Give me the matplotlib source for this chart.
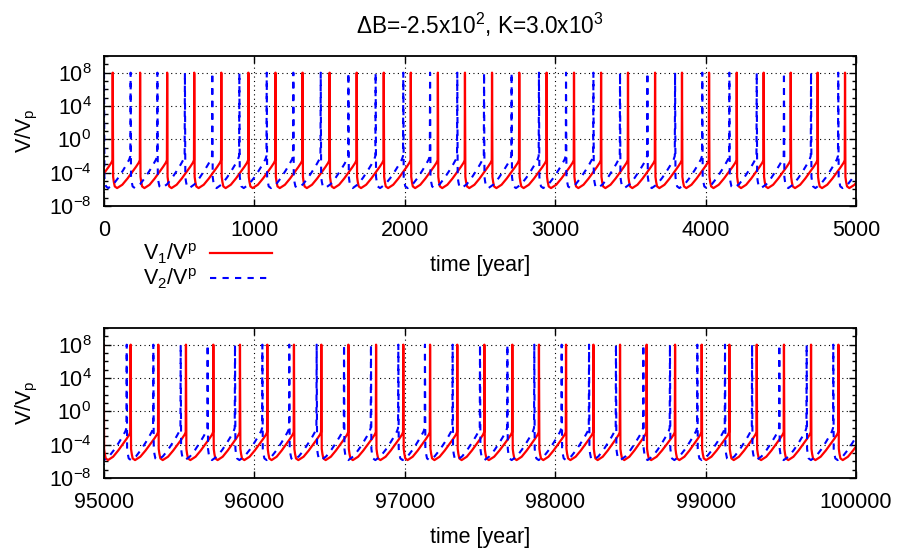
import numpy as np
import matplotlib.pyplot as plt

plt.rcParams['font.family'] = 'Liberation Sans'
plt.rcParams['mathtext.fontset'] = 'custom'
plt.rcParams['mathtext.rm'] = 'Liberation Sans'
plt.rcParams['mathtext.it'] = 'Liberation Sans:italic'
plt.rcParams['font.size'] = 15.5

# event (spike) times, in years
top_v1_events = [-122, 58, 240, 420, 600, 780, 960, 1140, 1320, 1500, 1680, 1860,
                 2040, 2220, 2400, 2580, 2761, 2943, 3125, 3305, 3484, 3664, 3843,
                 4023, 4207, 4386, 4566, 4745, 4927, 5107]
top_v2_events = [0, 177, 355, 538, 720, 900, 1082, 1259, 1441, 1625, 1806, 1990,
                 2168, 2349, 2527, 2710, 2892, 3072, 3254, 3431, 3613, 3797, 3978,
                 4158, 4340, 4521, 4701, 4882, 5063]
bot_v1_events = [94998, 95177, 95361, 95545, 95727, 95904, 96086, 96263, 96445,
                 96625, 96809, 96990, 97168, 97349, 97529, 97715, 97892, 98072,
                 98254, 98431, 98608, 98797, 98974, 99158, 99340, 99521, 99701,
                 99883, 100064]
bot_v2_events = [94971, 95151, 95328, 95510, 95689, 95871, 96053, 96232, 96414,
                 96596, 96775, 96957, 97134, 97318, 97500, 97682, 97861, 98043,
                 98225, 98404, 98586, 98763, 98945, 99129, 99309, 99490, 99672,
                 99849, 100030]

# shape of one cycle between spikes: phase of cycle and log10(V/Vp)
cycle_phase = [0.0, 0.015, 0.04, 0.075, 0.16, 0.35, 0.54, 0.72, 0.85, 0.95, 0.99]
v1_cycle_logv = [8.0, -4.5, -5.1, -5.65, -5.85, -5.45, -4.7, -3.9, -3.3, -2.8, -2.5]
v2_cycle_logv = [8.0, -4.5, -5.1, -5.65, -5.85, -5.4, -4.6, -3.7, -3.0, -2.4, -2.0]

ytick_vals = [1e-8, 1e-4, 1e0, 1e4, 1e8]
ytick_labels = ['10$^{-8}$', '10$^{-4}$', '10$^{0}$', '10$^{4}$', '10$^{8}$']
top_xticks = [0, 1000, 2000, 3000, 4000, 5000]
bot_xticks = [95000, 96000, 97000, 98000, 99000, 100000]


def build_curve(events, logv):
    t, v = [], []
    for a, b in zip(events[:-1], events[1:]):
        for p, lv in zip(cycle_phase, logv):
            t.append(a + p * (b - a))
            v.append(10.0 ** lv)
    t.append(events[-1])
    v.append(10.0 ** logv[0])
    return t, v


def setup(ax, xticks):
    ax.set_yscale('log')
    ax.set_xlim(xticks[0], xticks[-1])
    ax.set_ylim(1e-8, 1e10)
    ax.set_xticks(xticks)
    ax.set_yticks(ytick_vals)
    ax.set_yticklabels(ytick_labels)
    ax.set_yticks([10.0 ** k for k in range(-8, 11)], minor=True)
    ax.set_yticklabels([], minor=True)
    ax.tick_params(which='both', direction='in', top=True, right=True, width=1.0)
    ax.tick_params(which='major', length=5)
    ax.tick_params(which='minor', length=3)
    ax.tick_params(axis='x', which='minor', top=False, bottom=False)
    ax.tick_params(axis='x', pad=10)
    ax.tick_params(axis='y', pad=9)
    ax.grid(True, which='major', color='black', linestyle=(0, (1, 3)), linewidth=0.8)
    for s in ax.spines.values():
        s.set_linewidth(1.3)
    ax.set_ylabel(r'V/V$_{\mathrm{p}}$')
    ax.yaxis.set_label_coords(-0.085, 0.5)
    ax.set_xlabel('time [year]')
    ax.xaxis.set_label_coords(0.5, -0.33)


fig = plt.figure(figsize=(9, 5.5), dpi=100)
ax1 = fig.add_axes([104 / 900, 1 - 206 / 550, 752 / 900, 150 / 550])
ax2 = fig.add_axes([104 / 900, 1 - 478 / 550, 752 / 900, 150 / 550])

for ax, e1, e2, xt in [(ax1, top_v1_events, top_v2_events, top_xticks),
                       (ax2, bot_v1_events, bot_v2_events, bot_xticks)]:
    t1, v1 = build_curve(e1, v1_cycle_logv)
    t2, v2 = build_curve(e2, v2_cycle_logv)
    ax.plot(t1, v1, color='#ff0000', lw=1.6, label=r'V$_{1}$/V$^{\mathrm{p}}$')
    ax.plot(t2, v2, color='#0000ff', lw=1.5, dashes=(3, 3),
            label=r'V$_{2}$/V$^{\mathrm{p}}$')
    setup(ax, xt)

ax1.legend(loc='upper right', bbox_to_anchor=(272 / 900, 1 - 242 / 550),
           bbox_transform=fig.transFigure, markerfirst=False, frameon=False,
           borderpad=0, borderaxespad=0, handlelength=2.9, handletextpad=0.6,
           labelspacing=0.0)

fig.text(480 / 900, 1 - 25 / 550, '\u0394B=-2.5x10$^{2}$, K=3.0x10$^{3}$',
         ha='center', va='center', fontsize=16.3)

fig.savefig('out.png', dpi=100)
